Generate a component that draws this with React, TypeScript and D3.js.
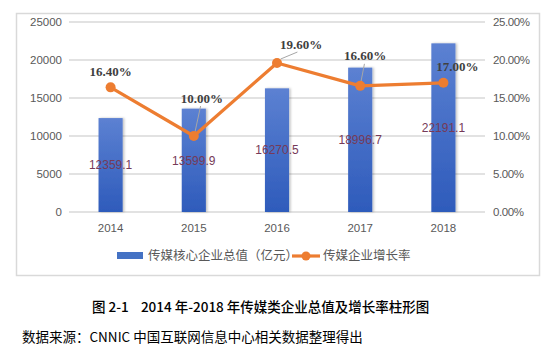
import { useRef, useEffect } from 'react';
import * as d3 from 'd3';

const years = ['2014', '2015', '2016', '2017', '2018'];
const totalValue = [12359.1, 13599.9, 16270.5, 18996.7, 22191.1];
const growthRate = [16.4, 10.0, 19.6, 16.6, 17.0];
const leftTicks = [0, 5000, 10000, 15000, 20000, 25000];
const rightTicks = [0, 5, 10, 15, 20, 25];
// label offsets (px) from each rate point, and whether a leader line is drawn
const rateLabelDx = [0, 8, 24, 5, 14];
const rateLabelDy = [-16, -38, -19, -30, -16];
const rateLeader = [false, true, true, true, false];

const barName = '传媒核心企业总值（亿元）';
const lineName = '传媒企业增长率';
const caption = '图 2-1\u00a0\u00a0\u00a0\u00a02014 年-2018 年传媒类企业总值及增长率柱形图';
const source = '数据来源：CNNIC 中国互联网信息中心相关数据整理得出';

function App() {
    const svgRef = useRef<SVGSVGElement>(null);

    useEffect(() => {
        const width = 557;
        const height = 352;
        const margin = { left: 69, right: 72, top: 22, bottom: 140 };
        const axisFont = '"Liberation Sans", Arial, sans-serif';
        const cjkFont = '"Noto Sans CJK SC", sans-serif';

        const svg = d3.select(svgRef.current);
        svg.selectAll('*').remove();

        const defs = svg.append('defs');
        const grad = defs.append('linearGradient')
            .attr('id', 'barGrad')
            .attr('x1', 0).attr('y1', 0).attr('x2', 0).attr('y2', 1);
        grad.append('stop').attr('offset', '0%').attr('stop-color', '#5c81d2');
        grad.append('stop').attr('offset', '100%').attr('stop-color', '#2e5bbb');
        const shadow = defs.append('filter').attr('id', 'shadow')
            .attr('x', '-30%').attr('y', '-10%').attr('width', '160%').attr('height', '120%');
        shadow.append('feDropShadow')
            .attr('dx', 1.5).attr('dy', 0).attr('stdDeviation', 1.2)
            .attr('flood-color', '#000').attr('flood-opacity', 0.25);

        // chart frame
        svg.append('rect')
            .attr('x', 16.5).attr('y', 13.5)
            .attr('width', 523).attr('height', 262)
            .attr('fill', '#fff')
            .attr('stroke', '#d9d9d9')
            .attr('stroke-width', 1.5);

        const x = d3.scaleBand()
            .domain(years)
            .range([margin.left, width - margin.right])
            .paddingInner(0.71)
            .paddingOuter(0.355);

        const yL = d3.scaleLinear().domain([0, 25000]).range([height - margin.bottom, margin.top]);
        const yR = d3.scaleLinear().domain([0, 25]).range([height - margin.bottom, margin.top]);
        const cx = (i: number) => (x(years[i]) as number) + x.bandwidth() / 2;

        // gridlines
        svg.append('g')
            .selectAll('line')
            .data(leftTicks)
            .enter()
            .append('line')
            .attr('x1', margin.left)
            .attr('x2', width - margin.right)
            .attr('y1', d => yL(d))
            .attr('y2', d => yL(d))
            .attr('stroke', '#d9d9d9')
            .attr('stroke-width', 1.5);

        // left axis labels
        svg.append('g')
            .selectAll('text')
            .data(leftTicks)
            .enter()
            .append('text')
            .attr('x', margin.left - 7)
            .attr('y', d => yL(d))
            .attr('dy', '0.35em')
            .attr('text-anchor', 'end')
            .attr('font-family', axisFont)
            .attr('font-size', 11.5)
            .attr('fill', '#595959')
            .text(d => d);

        // right axis labels
        svg.append('g')
            .selectAll('text')
            .data(rightTicks)
            .enter()
            .append('text')
            .attr('x', width - margin.right + 8)
            .attr('y', d => yR(d))
            .attr('dy', '0.35em')
            .attr('text-anchor', 'start')
            .attr('font-family', axisFont)
            .attr('font-size', 11.5)
            .attr('letter-spacing', -0.4)
            .attr('fill', '#595959')
            .text(d => d3.format('.2f')(d) + '%');

        // x labels
        svg.append('g')
            .selectAll('text')
            .data(years)
            .enter()
            .append('text')
            .attr('x', d => (x(d) as number) + x.bandwidth() / 2)
            .attr('y', height - margin.bottom + 16)
            .attr('dy', '0.35em')
            .attr('text-anchor', 'middle')
            .attr('font-family', axisFont)
            .attr('font-size', 11.5)
            .attr('fill', '#595959')
            .text(d => d);

        // bars
        svg.append('g')
            .selectAll('rect')
            .data(totalValue)
            .enter()
            .append('rect')
            .attr('x', (_, i) => x(years[i]) as number)
            .attr('y', d => yL(d))
            .attr('width', x.bandwidth())
            .attr('height', d => yL(0) - yL(d))
            .attr('fill', 'url(#barGrad)')
            .attr('filter', 'url(#shadow)');

        // bar value labels
        svg.append('g')
            .selectAll('text')
            .data(totalValue)
            .enter()
            .append('text')
            .attr('x', (_, i) => cx(i))
            .attr('y', d => (yL(d) + yL(0)) / 2)
            .attr('dy', '0.35em')
            .attr('text-anchor', 'middle')
            .attr('font-family', axisFont)
            .attr('font-size', 12)
            .attr('fill', '#763a58')
            .text(d => d3.format('.1f')(d));

        // growth line
        const line = d3.line<number>()
            .x((_, i) => cx(i))
            .y(d => yR(d));

        svg.append('path')
            .datum(growthRate)
            .attr('d', line)
            .attr('fill', 'none')
            .attr('stroke', '#ed7d31')
            .attr('stroke-width', 3.2)
            .attr('stroke-linejoin', 'round');

        // leader lines from labels to points
        const leaders = growthRate
            .map((v, i) => ({ v, i }))
            .filter(d => rateLeader[d.i]);

        svg.append('g')
            .selectAll('line')
            .data(leaders)
            .enter()
            .append('line')
            .attr('x1', d => cx(d.i) + rateLabelDx[d.i] * 0.85)
            .attr('y1', d => yR(d.v) + rateLabelDy[d.i] + 8)
            .attr('x2', d => cx(d.i) + rateLabelDx[d.i] * 0.15)
            .attr('y2', d => yR(d.v) - 4)
            .attr('stroke', '#a6a6a6')
            .attr('stroke-width', 1);

        svg.append('g')
            .selectAll('circle')
            .data(growthRate)
            .enter()
            .append('circle')
            .attr('cx', (_, i) => cx(i))
            .attr('cy', d => yR(d))
            .attr('r', 5)
            .attr('fill', '#ed7d31');

        // rate labels
        svg.append('g')
            .selectAll('text')
            .data(growthRate)
            .enter()
            .append('text')
            .attr('x', (_, i) => cx(i) + rateLabelDx[i])
            .attr('y', (d, i) => yR(d) + rateLabelDy[i])
            .attr('dy', '0.35em')
            .attr('text-anchor', 'middle')
            .attr('font-family', '"Liberation Serif", "Times New Roman", serif')
            .attr('font-weight', 'bold')
            .attr('font-size', 13)
            .attr('fill', '#404040')
            .text(d => d3.format('.2f')(d) + '%');

        // legend
        const legend = svg.append('g').attr('font-family', cjkFont).attr('font-size', 12.5).attr('fill', '#595959');
        legend.append('rect')
            .attr('x', 117).attr('y', 252)
            .attr('width', 26).attr('height', 7)
            .attr('fill', '#4472c4');
        legend.append('text')
            .attr('x', 148).attr('y', 256)
            .attr('dy', '0.35em')
            .text(barName);
        legend.append('line')
            .attr('x1', 292).attr('x2', 320)
            .attr('y1', 256).attr('y2', 256)
            .attr('stroke', '#ed7d31')
            .attr('stroke-width', 3.2);
        legend.append('circle')
            .attr('cx', 306).attr('cy', 256).attr('r', 4.5)
            .attr('fill', '#ed7d31');
        legend.append('text')
            .attr('x', 323).attr('y', 256)
            .attr('dy', '0.35em')
            .text(lineName);

        // caption and source
        svg.append('text')
            .attr('x', 92).attr('y', 307)
            .attr('dy', '0.35em')
            .attr('font-family', cjkFont)
            .attr('font-weight', 500)
            .attr('font-size', 13.5)
            .attr('fill', '#000')
            .text(caption);

        svg.append('text')
            .attr('x', 22).attr('y', 337)
            .attr('dy', '0.35em')
            .attr('font-family', cjkFont)
            .attr('font-size', 13.5)
            .attr('fill', '#000')
            .text(source);
    }, []);

    return (
        <svg
            ref={svgRef}
            width={557}
            height={352}
            style={{ position: 'fixed', left: 0, top: 0, background: '#fff' }}
        />
    );
}

export default App;
